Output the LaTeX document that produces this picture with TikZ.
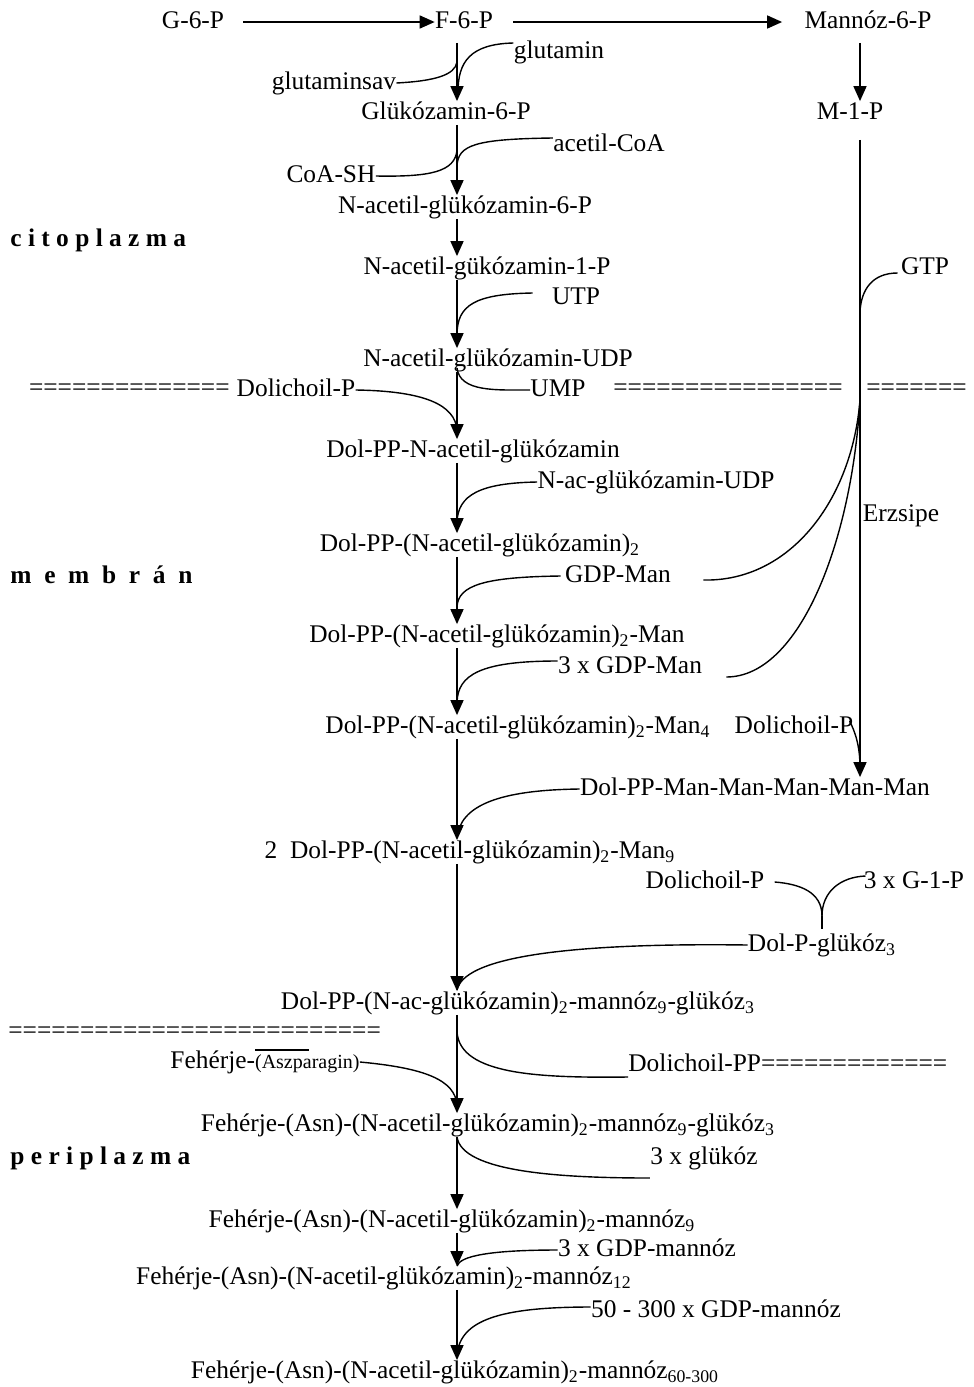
\documentclass[tikz,border=0pt]{standalone}
\usepackage{fontspec}
\setmainfont{Liberation Serif}
\usetikzlibrary{arrows.meta}

\tikzset{
  lbl/.style={inner sep=0pt, text height=9pt, text depth=2.5pt, font=\fontsize{12.7pt}{15pt}\selectfont},
  zone/.style={lbl, anchor=west, font=\fontsize{12.7pt}{15pt}\selectfont\bfseries},
  flow/.style={line width=0.8pt, -{Triangle[length=7.5pt,width=6.5pt]}},
  feed/.style={line width=0.7pt}
}
\newcommand{\sub}[1]{\textsubscript{#1}}

\begin{document}
\begin{tikzpicture}[x=0.5pt,y=-0.5pt]
\useasboundingbox (0,0) rectangle (974,1387);
\coordinate (ax) at (457,0); % main axis
\coordinate (rx) at (860,0); % mannose axis
% nodes
\node[lbl] (g6p) at (193,22) {G-6-P};
\node[lbl] (f6p) at (464,22) {F-6-P};
\node[lbl] (m6p) at (868,22) {Mannóz-6-P};
\node[lbl] (glutamin) at (559,52) {glutamin};
\node[lbl] (glutaminsav) at (334,83) {glutaminsav};
\node[lbl] (glu6p) at (446,113) {Glükózamin-6-P};
\node[lbl] (m1p) at (850,113) {M-1-P};
\node[lbl] (acetilcoa) at (609,145) {acetil-CoA};
\node[lbl] (coash) at (331,176) {CoA-SH};
\node[lbl] (nac6p) at (465,207) {N-acetil-glükózamin-6-P};
\node[zone] (cito) at (10,240) {c i t o p l a z m a};
\node[lbl] (nac1p) at (487,268) {N-acetil-gükózamin-1-P};
\node[lbl] (gtp) at (925,268) {GTP};
\node[lbl] (utp) at (576,298) {UTP};
\node[lbl] (nacudp) at (498,360) {N-acetil-glükózamin-UDP};
\node[lbl, anchor=east] (sepL) at (230,389) {==============};
\node[lbl] (dolp1) at (296,390) {Dolichoil-P};
\node[lbl] (ump) at (558,390) {UMP};
\node[lbl, anchor=west] (sepR) at (613,389) {================};
\node[lbl, anchor=west] (sepRR) at (866,389) {=======};
\node[lbl] (dolppnac) at (473,451) {Dol-PP-N-acetil-glükózamin};
\node[lbl] (nacudp2) at (656,482) {N-ac-glükózamin-UDP};
\node[lbl] (erzsipe) at (901,515) {Erzsipe};
\node[lbl] (dolpp2) at (480,545) {Dol-PP-(N-acetil-glükózamin)\sub{2}};
\node[zone] (membran) at (10,577) {m~~e~~m~~b~~r~~á~~n};
\node[lbl] (gdpman) at (618,576) {GDP-Man};
\node[lbl] (dolpp2man) at (497,636) {Dol-PP-(N-acetil-glükózamin)\sub{2}-Man};
\node[lbl] (gdpman3) at (630,667) {3 x GDP-Man};
\node[lbl] (dolpp2man4) at (518,727) {Dol-PP-(N-acetil-glükózamin)\sub{2}-Man\sub{4}};
\node[lbl] (dolp2) at (794,727) {Dolichoil-P};
\node[lbl] (dolppman5) at (755,789) {Dol-PP-Man-Man-Man-Man-Man};
\node[lbl] (man9) at (470,852) {2~~Dol-PP-(N-acetil-glükózamin)\sub{2}-Man\sub{9}};
\node[lbl] (dolp3) at (705,882) {Dolichoil-P};
\node[lbl] (g1p) at (914,882) {3 x G-1-P};
\node[lbl] (dolpgluk) at (822,945) {Dol-P-glükóz\sub{3}};
\node[lbl] (dolppglc) at (518,1003) {Dol-PP-(N-ac-glükózamin)\sub{2}-mannóz\sub{9}-glükóz\sub{3}};
\node[lbl, anchor=west] (sepB) at (8,1032) {==========================};
\node[lbl] (fehasp) at (265,1062) {Fehérje-{\fontsize{10pt}{11pt}\selectfont(Aszparagin)}};
\node[lbl, anchor=west] (dolichoilpp) at (628,1065) {Dolichoil-PP=============};
\node[lbl] (fehglc) at (488,1125) {Fehérje-(Asn)-(N-acetil-glükózamin)\sub{2}-mannóz\sub{9}-glükóz\sub{3}};
\node[zone] (peri) at (10,1158) {p e r i p l a z m a};
\node[lbl] (gluk3) at (704,1158) {3 x glükóz};
\node[lbl] (fehman9) at (452,1221) {Fehérje-(Asn)-(N-acetil-glükózamin)\sub{2}-mannóz\sub{9}};
\node[lbl] (gdpmannoz3) at (647,1250) {3 x GDP-mannóz};
\node[lbl] (fehman12) at (384,1278) {Fehérje-(Asn)-(N-acetil-glükózamin)\sub{2}-mannóz\sub{12}};
\node[lbl] (gdp50) at (716,1311) {50 - 300 x GDP-mannóz};
\node[lbl] (fehman60) at (455,1372) {Fehérje-(Asn)-(N-acetil-glükózamin)\sub{2}-mannóz\sub{60-300}};
% junctions on the axes
\coordinate (jglm) at (458,92);
\coordinate (jgsv) at (457,62);
\coordinate (jacoa) at (457,166);
\coordinate (jcoa) at (457,150);
\coordinate (jutp) at (457,335);
\coordinate (jump) at (457,368);
\coordinate (jdolp) at (457,430);
\coordinate (jnacudp) at (457,522);
\coordinate (jgdp) at (457,607);
\coordinate (jgdp3) at (457,702);
\coordinate (jgtp) at (860,312);
\coordinate (jman) at (860,400);
\coordinate (jdolp2) at (860,768);
\coordinate (jman5) at (457,838);
\coordinate (vtx) at (822,916);
\coordinate (jglc) at (457,990);
\coordinate (jdpp) at (457,1032);
\coordinate (jasn) at (457,1105);
\coordinate (jgm3) at (457,1266);
\coordinate (jgm50) at (457,1355);
% main pathway
\draw[flow] ([xshift=9.5pt]g6p.east) -- (f6p.west);
\draw[flow] ([xshift=10pt]f6p.east) -- ([xshift=-11pt]m6p.west);
\draw[flow] ([yshift=-4.5pt]f6p.south -| ax) -- (glu6p.north -| ax);
\foreach \a/\b in {glu6p/nac6p, nac6p/nac1p, nac1p/nacudp, nacudp/dolppnac, dolppnac/dolpp2,
  dolpp2/dolpp2man, dolpp2man/dolpp2man4, dolpp2man4/man9, man9/dolppglc, dolppglc/fehglc,
  fehglc/fehman9, fehman9/fehman12, fehman12/fehman60}
  \draw[flow] (\a.south -| ax) -- (\b.north -| ax);
% mannose branch
\draw[flow] ([yshift=-4.5pt]m6p.south -| rx) -- (m1p.north -| rx);
\draw[flow] ([yshift=-7.5pt]m1p.south -| rx) -- (dolppman5.north -| rx);
% side substrates
\draw[feed] ([yshift=4.5pt]glutamin.west) .. controls (470,44) and (458,62) .. (jglm);
\draw[feed] (glutaminsav.east) .. controls (435,81) and (455,75) .. (jgsv);
\draw[feed] ([yshift=3.5pt]acetilcoa.west) .. controls (475,139) and (458,145) .. (jacoa);
\draw[feed] (coash.east) .. controls (430,177) and (455,172) .. (jcoa);
\draw[feed] ([xshift=-9.5pt,yshift=2.5pt]utp.west) .. controls (475,294) and (457,305) .. (jutp);
\draw[feed] (jump) .. controls (460,392) and (495,390) .. (ump.west);
\draw[feed] (dolp1.east) .. controls (425,391) and (455,405) .. (jdolp);
\draw[feed] (nacudp2.west) .. controls (480,483) and (458,495) .. (jnacudp);
\draw[feed] ([xshift=-2pt]gdpman.west) .. controls (485,577) and (458,585) .. (jgdp);
\draw[feed] ([yshift=3pt]gdpman3.west) .. controls (480,661) and (458,675) .. (jgdp3);
\draw[feed] ([xshift=-1.5pt,yshift=-2.5pt]gtp.west) .. controls (872,273) and (861,290) .. (jgtp) -- (jman);
\draw[feed] ([xshift=16pt,yshift=-2pt]gdpman.east) .. controls (790,582) and (852,500) .. (jman);
\draw[feed] ([xshift=12pt,yshift=-5pt]gdpman3.east) .. controls (800,677) and (852,540) .. (jman);
\draw[feed] ([xshift=-2pt,yshift=3pt]dolp2.east) .. controls (855,732) and (860,745) .. (jdolp2);
\draw[feed] (dolppman5.west) .. controls (500,790) and (460,805) .. (jman5);
\draw[feed] ([xshift=5pt]dolp3.east) .. controls (800,884) and (822,892) .. (vtx);
\draw[feed] ([xshift=1pt,yshift=3pt]g1p.west) .. controls (840,877) and (822,892) .. (vtx);
\draw[feed] (vtx) -- ([yshift=2pt]dolpgluk.north);
\draw[feed] (dolpgluk.west) .. controls (600,943) and (465,952) .. (jglc);
\draw[feed] (jdpp) .. controls (460,1075) and (540,1078) .. ([yshift=-6pt]dolichoilpp.west);
\draw[feed] ([xshift=42.5pt]fehasp.north west) -- ++(54,0);
\draw[feed] (fehasp.east) .. controls (425,1068) and (455,1080) .. (jasn);
\draw[feed] (fehglc.south -| ax) .. controls (462,1172) and (560,1178) .. ([yshift=-10pt]gluk3.west);
\draw[feed] (gdpmannoz3.west) .. controls (490,1250) and (460,1256) .. (jgm3);
\draw[feed] ([yshift=2pt]gdp50.west) .. controls (500,1307) and (460,1320) .. (jgm50);
\end{tikzpicture}
\end{document}
